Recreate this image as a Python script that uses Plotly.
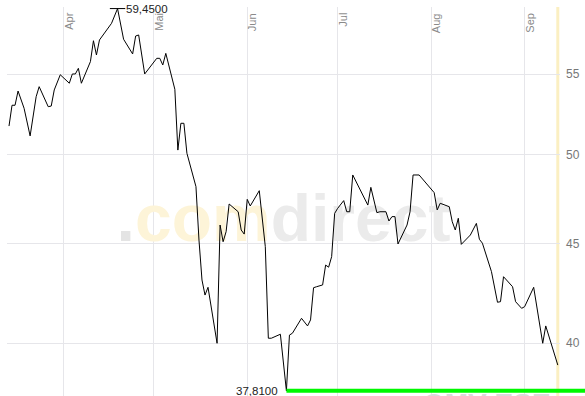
import math
import plotly.graph_objects as go

# ---- data ----
dates = [
    "2011-03-14", "2011-03-15", "2011-03-16", "2011-03-17", "2011-03-19", "2011-03-21",
    "2011-03-23", "2011-03-24", "2011-03-27", "2011-03-28", "2011-03-29", "2011-03-30",
    "2011-03-31", "2011-04-03", "2011-04-04", "2011-04-05", "2011-04-06", "2011-04-07",
    "2011-04-10", "2011-04-11", "2011-04-12", "2011-04-13", "2011-04-17", "2011-04-19",
    "2011-04-21", "2011-04-24", "2011-04-25", "2011-04-26", "2011-04-28", "2011-05-02",
    "2011-05-03", "2011-05-04", "2011-05-05", "2011-05-08", "2011-05-09", "2011-05-10",
    "2011-05-11", "2011-05-12", "2011-05-15", "2011-05-16", "2011-05-17", "2011-05-18",
    "2011-05-19", "2011-05-22", "2011-05-23", "2011-05-24", "2011-05-25", "2011-05-26",
    "2011-05-29", "2011-05-30", "2011-05-31", "2011-06-01", "2011-06-02", "2011-06-05",
    "2011-06-07", "2011-06-08", "2011-06-09", "2011-06-12", "2011-06-14", "2011-06-15",
    "2011-06-16", "2011-06-19", "2011-06-21", "2011-06-22", "2011-06-23", "2011-06-24",
    "2011-06-26", "2011-06-27", "2011-06-28", "2011-06-29", "2011-06-30", "2011-07-01",
    "2011-07-03", "2011-07-04", "2011-07-05", "2011-07-06", "2011-07-11", "2011-07-12",
    "2011-07-14", "2011-07-15", "2011-07-17", "2011-07-18", "2011-07-19", "2011-07-20",
    "2011-07-21", "2011-07-24", "2011-07-25", "2011-07-26", "2011-07-28", "2011-08-02",
    "2011-08-03", "2011-08-04", "2011-08-07", "2011-08-08", "2011-08-09", "2011-08-10",
    "2011-08-11", "2011-08-14", "2011-08-16", "2011-08-17", "2011-08-18", "2011-08-21",
    "2011-08-23", "2011-08-24", "2011-08-25", "2011-08-28", "2011-08-29", "2011-08-31",
    "2011-09-01", "2011-09-04", "2011-09-07", "2011-09-08", "2011-09-12",
]
prices = [
    51.73, 53.02, 53.02, 53.92, 52.83, 51.13,
    53.56, 54.20, 52.93, 52.97, 53.99, 54.42,
    54.97, 54.42, 55.02, 55.02, 55.39, 54.42,
    55.83, 57.23, 56.27, 57.28, 58.42, 59.45,
    57.33, 56.34, 57.55, 57.62, 55.02, 56.05,
    56.05, 55.61, 56.38, 54.03, 50.28, 51.90,
    51.90, 50.09, 48.15, 45.20, 43.11, 42.35,
    42.74, 40.00, 46.01, 45.11, 45.65, 47.17,
    46.74, 45.74, 45.52, 47.43, 47.06, 47.92,
    44.85, 40.24, 40.24, 40.43, 37.81, 40.39,
    40.48, 41.20, 40.83, 41.12, 42.72, 42.77,
    42.86, 43.88, 43.77, 44.32, 46.65, 46.93,
    47.36, 46.74, 46.74, 48.82, 47.11, 48.11,
    46.69, 46.74, 46.74, 46.23, 46.47, 46.47,
    44.99, 46.01, 46.74, 48.82, 48.82, 47.81,
    46.84, 47.21, 47.02, 46.19, 45.74, 46.38,
    44.97, 45.47, 46.10, 45.24, 45.03, 43.54,
    41.99, 42.02, 43.28, 42.77, 42.02, 41.69,
    41.77, 42.74, 40.00, 40.83, 38.98,
]
month_ticks = ["2011-04-01", "2011-05-01", "2011-06-01", "2011-07-01", "2011-08-01", "2011-09-01"]
month_labels = ["Apr", "Mai", "Jun", "Jul", "Aug", "Sep"]
y_ticks = [40, 45, 50, 55]
y_tick_labels = ["40", "45", "50", "55"]

# ---- layout constants ----
Y_LO, Y_HI = 1.57495, 1.77496
X_RANGE = ["2011-03-13 08:00", "2011-09-12 17:30"]
GRID = "#e6e6ea"
FONT = "Liberation Sans, Arial, sans-serif"

peak_i = prices.index(max(prices))
low_i = prices.index(min(prices))


def fmt(v):
    return f"{v:.4f}".replace(".", ",")


fig = go.Figure()

# watermark (drawn first, below the price line)
fig.add_trace(go.Scatter(
    x=[0.5], y=[0.4404], mode="text",
    text=['<span style="color:#e4e4e4">.</span>'
          '<span style="color:#fdf4d8">com</span>'
          '<span style="color:#ebebeb">direct</span>'],
    textposition="middle center",
    textfont=dict(family=FONT, size=66, weight="bold"),
    xaxis="x", yaxis="y", hoverinfo="skip", showlegend=False,
))

# price line
fig.add_trace(go.Scatter(
    x=dates, y=prices, mode="lines",
    line=dict(color="#000000", width=1),
    xaxis="x2", yaxis="y2", hoverinfo="skip", showlegend=False,
))

# peak tick
fig.add_trace(go.Scatter(
    x=[dates[peak_i]], y=[prices[peak_i]], mode="markers",
    marker=dict(symbol="line-ew", size=11, line=dict(color="#000000", width=1)),
    cliponaxis=False, xaxis="x2", yaxis="y2", hoverinfo="skip", showlegend=False,
))

annotations = []
for d, lab in zip(month_ticks, month_labels):
    annotations.append(dict(
        x=d, xref="x2", y=1, yref="paper", text=lab, showarrow=False,
        textangle=-90, xanchor="center", yanchor="top", xshift=5, yshift=-4,
        font=dict(family=FONT, size=11, color="#8a8a8a"),
    ))
annotations.append(dict(
    x=dates[peak_i], xref="x2", y=math.log10(prices[peak_i]), yref="y2",
    text=fmt(prices[peak_i]), showarrow=False, xanchor="left", yanchor="middle",
    xshift=6, font=dict(family=FONT, size=11.5, color="#222222"),
))
annotations.append(dict(
    x=dates[low_i], xref="x2", y=math.log10(prices[low_i]), yref="y2",
    text=fmt(prices[low_i]), showarrow=False, xanchor="right", yanchor="middle",
    xshift=-6, font=dict(family=FONT, size=11.5, color="#222222"),
))
annotations.append(dict(
    x=0.868, xref="paper", y=0, yref="paper", text="OMV ESE", showarrow=False,
    xanchor="center", yanchor="top", yshift=10,
    font=dict(family=FONT, size=28, color="#dadada", weight="bold"),
))

low_paper = (math.log10(prices[low_i]) - Y_LO) / (Y_HI - Y_LO)
shapes = [
    dict(type="line", xref="x2", yref="y2", x0=dates[-1], x1=dates[-1],
         y0=10 ** Y_LO, y1=10 ** Y_HI, layer="below",
         line=dict(color="#fbefc2", width=3)),
    dict(type="line", xref="x2", yref="y2", x0=dates[low_i], x1=X_RANGE[1],
         y0=prices[low_i], y1=prices[low_i], layer="above",
         line=dict(color="#00f800", width=4)),
    dict(type="line", xref="paper", yref="paper", x0=1, x1=1.1,
         y0=low_paper, y1=low_paper, layer="above",
         line=dict(color="#00f800", width=4)),
]

fig.update_layout(
    width=585, height=396,
    margin=dict(l=7, r=25, t=7, b=0),
    paper_bgcolor="#ffffff", plot_bgcolor="#ffffff",
    showlegend=False,
    xaxis=dict(range=[0, 1], visible=False, showgrid=False, zeroline=False),
    yaxis=dict(range=[0, 1], visible=False, showgrid=False, zeroline=False),
    xaxis2=dict(
        type="date", range=X_RANGE, overlaying="x", anchor="y2",
        tickvals=month_ticks, showticklabels=False, ticks="",
        showgrid=True, gridcolor=GRID, gridwidth=1, zeroline=False, showline=False,
    ),
    yaxis2=dict(
        type="log", range=[Y_LO, Y_HI], overlaying="y", side="right", anchor="x2",
        tickvals=y_ticks, ticktext=y_tick_labels, ticks="",
        ticklabelstandoff=5,
        tickfont=dict(family=FONT, size=12, color="#777777"),
        showgrid=True, gridcolor=GRID, gridwidth=1, zeroline=False, showline=False,
    ),
    annotations=annotations,
    shapes=shapes,
)

fig.write_html("out.html")
